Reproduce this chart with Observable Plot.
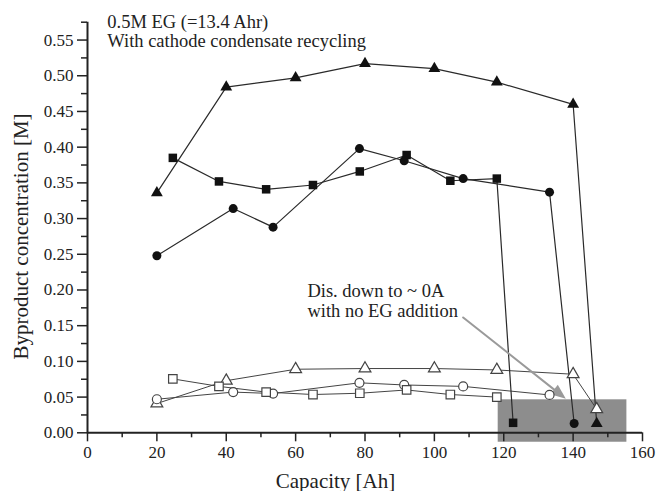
<!DOCTYPE html>
<html>
<head>
<meta charset="utf-8">
<script src="https://cdn.jsdelivr.net/npm/d3@7"></script>
<script src="https://cdn.jsdelivr.net/npm/@observablehq/plot@0.6"></script>
<style>
  html, body { margin: 0; padding: 0; background: #fff; }
  #chart svg { display: block; }
</style>
</head>
<body>
<div id="chart"></div>
<script>
// ---- data ----
const capFilledTri  = [20, 40, 60, 80, 100, 118, 140, 146.8];
const concFilledTri = [0.336, 0.484, 0.497, 0.517, 0.510, 0.491, 0.460, 0.013];

const capFilledSq   = [24.6, 37.9, 51.5, 65, 78.5, 92, 104.6, 118, 122.7];
const concFilledSq  = [0.385, 0.352, 0.341, 0.347, 0.366, 0.389, 0.353, 0.356, 0.014];

const capFilledCirc  = [20, 42, 53.5, 78.4, 91.3, 108.3, 133.2, 140.3];
const concFilledCirc = [0.248, 0.314, 0.288, 0.398, 0.381, 0.356, 0.337, 0.013];

const capOpenTri  = [20, 40, 60, 80, 100, 118, 140, 146.8];
const concOpenTri = [0.041, 0.073, 0.089, 0.090, 0.090, 0.088, 0.082, 0.033];

const capOpenCirc  = [20, 42, 53.5, 78.4, 91.3, 108.3, 133.2];
const concOpenCirc = [0.047, 0.057, 0.055, 0.070, 0.067, 0.065, 0.053];

const capOpenSq  = [24.6, 37.9, 51.5, 65, 78.5, 92, 104.6, 118];
const concOpenSq = [0.0755, 0.065, 0.057, 0.0536, 0.0554, 0.060, 0.0536, 0.050];

const xTicks = [0, 20, 40, 60, 80, 100, 120, 140, 160];
const yTicks = [0, 0.05, 0.10, 0.15, 0.20, 0.25, 0.30, 0.35, 0.40, 0.45, 0.50, 0.55];

const titleLines = ["0.5M EG (=13.4 Ahr)", "With cathode condensate recycling"];
const noteLines = ["Dis. down to ~ 0A", "with no EG addition"];
const xLabel = "Capacity [Ah]";
const yLabel = "Byproduct concentration [M]";

// ---- build series ----
const series = [
  {id: "fTri", xs: capFilledTri, ys: concFilledTri, symbol: "triangle", open: false},
  {id: "fSq", xs: capFilledSq, ys: concFilledSq, symbol: "square", open: false},
  {id: "fCirc", xs: capFilledCirc, ys: concFilledCirc, symbol: "circle", open: false},
  {id: "oTri", xs: capOpenTri, ys: concOpenTri, symbol: "triangle", open: true},
  {id: "oCirc", xs: capOpenCirc, ys: concOpenCirc, symbol: "circle", open: true},
  {id: "oSq", xs: capOpenSq, ys: concOpenSq, symbol: "square", open: true}
];
const rows = series.flatMap(s => s.xs.map((x, i) => ({series: s.id, x, y: s.ys[i]})));

const W = 658, H = 491;
const mL = 87, mR = 16, mT = 21.7, mB = 58.7;
const xDom = [0, 160], yDom = [0, 0.575];
const serif = "'Liberation Serif', 'Times New Roman', serif";

const symR = {triangle: 4.4, square: 4.8, circle: 4.5};

// arrow annotation (data coords)
const arrowFrom = {x: 108.3, y: 0.1615};
const arrowTo = {x: 137.9, y: 0.0476};
const pxX = (W - mL - mR) / (xDom[1] - xDom[0]);
const pxY = (H - mT - mB) / (yDom[1] - yDom[0]);
const adx = (arrowTo.x - arrowFrom.x) * pxX;
const ady = -(arrowTo.y - arrowFrom.y) * pxY; // screen down positive
const arrowAngle = Math.atan2(adx, -ady) * 180 / Math.PI;

const marks = [
  // shaded region
  Plot.rect([{x1: 118.4, x2: 155.5, y1: -0.0132, y2: 0.0462}],
    {x1: "x1", x2: "x2", y1: "y1", y2: "y2", fill: "#8d8d8d"}),
  // connecting lines
  Plot.line(rows.filter(d => d.series.startsWith("o")), {x: "x", y: "y", z: "series", stroke: "#444", strokeWidth: 1}),
  Plot.line(rows.filter(d => d.series.startsWith("f")), {x: "x", y: "y", z: "series", stroke: "#2a2a2a", strokeWidth: 1.2}),
  // arrow
  Plot.arrow([{}], {x1: arrowFrom.x, y1: arrowFrom.y, x2: arrowTo.x, y2: arrowTo.y,
    stroke: "#9a9a9a", strokeWidth: 2, headLength: 0, insetEnd: 8}),
  Plot.vector([{}], {x: arrowTo.x, y: arrowTo.y, length: 15, rotate: arrowAngle,
    shape: "spike", r: 6, anchor: "end", fill: "#9a9a9a", stroke: "none"}),
];

for (const s of series) {
  marks.push(Plot.dot(rows.filter(d => d.series === s.id), {
    x: "x", y: "y", symbol: s.symbol, r: symR[s.symbol],
    fill: s.open ? "white" : "#111",
    stroke: s.open ? "#444" : "none",
    strokeWidth: s.open ? 1.2 : 0
  }));
}

const minorX = d3.range(10, 160, 20);
const minorY = d3.range(0.025, 0.576, 0.05);

marks.push(
  // axis lines
  Plot.ruleY([0], {stroke: "#222", strokeWidth: 2}),
  Plot.ruleX([0], {stroke: "#222", strokeWidth: 2, y1: -0.0014, y2: yDom[1]}),
  // major ticks + labels
  Plot.axisX(xTicks, {tickSize: 9, tickPadding: 4, fontSize: 17, label: null, stroke: "#222", strokeWidth: 1.5, color: "#222"}),
  Plot.axisY(yTicks, {tickSize: 10, tickPadding: 4, fontSize: 17, label: null, tickFormat: d3.format(".2f"), stroke: "#222", strokeWidth: 1.5, color: "#222"}),
  // minor ticks
  Plot.axisX(minorX, {tickSize: 5, tickFormat: () => "", label: null, stroke: "#222", strokeWidth: 1.5}),
  Plot.axisY(minorY, {tickSize: 6, tickFormat: () => "", label: null, stroke: "#222", strokeWidth: 1.5}),
  // axis titles
  Plot.text([xLabel], {frameAnchor: "bottom", lineAnchor: "middle", dy: 48, dx: -29.5, fontSize: 21, fill: "#222"}),
  Plot.text([yLabel], {frameAnchor: "left", textAnchor: "middle", lineAnchor: "middle", rotate: -90, dx: -66, dy: 9, fontSize: 21, fill: "#222"}),
  // annotations
  Plot.text([titleLines[0]], {x: 5.7, y: 0.5754, textAnchor: "start", fontSize: 18.5, fill: "#222"}),
  Plot.text([titleLines[1]], {x: 5.7, y: 0.5487, textAnchor: "start", fontSize: 18.5, fill: "#222"}),
  Plot.text([noteLines[0]], {x: 63.4, y: 0.1983, textAnchor: "start", fontSize: 18.5, fill: "#222"}),
  Plot.text([noteLines[1]], {x: 63.4, y: 0.170, textAnchor: "start", fontSize: 18.5, fill: "#222"})
);

const chart = Plot.plot({
  width: W, height: H,
  marginLeft: mL, marginRight: mR, marginTop: mT, marginBottom: mB,
  style: {fontFamily: serif, background: "white", color: "#222", overflow: "visible"},
  x: {domain: xDom},
  y: {domain: yDom},
  marks
});
document.getElementById("chart").appendChild(chart);
</script>
</body>
</html>
